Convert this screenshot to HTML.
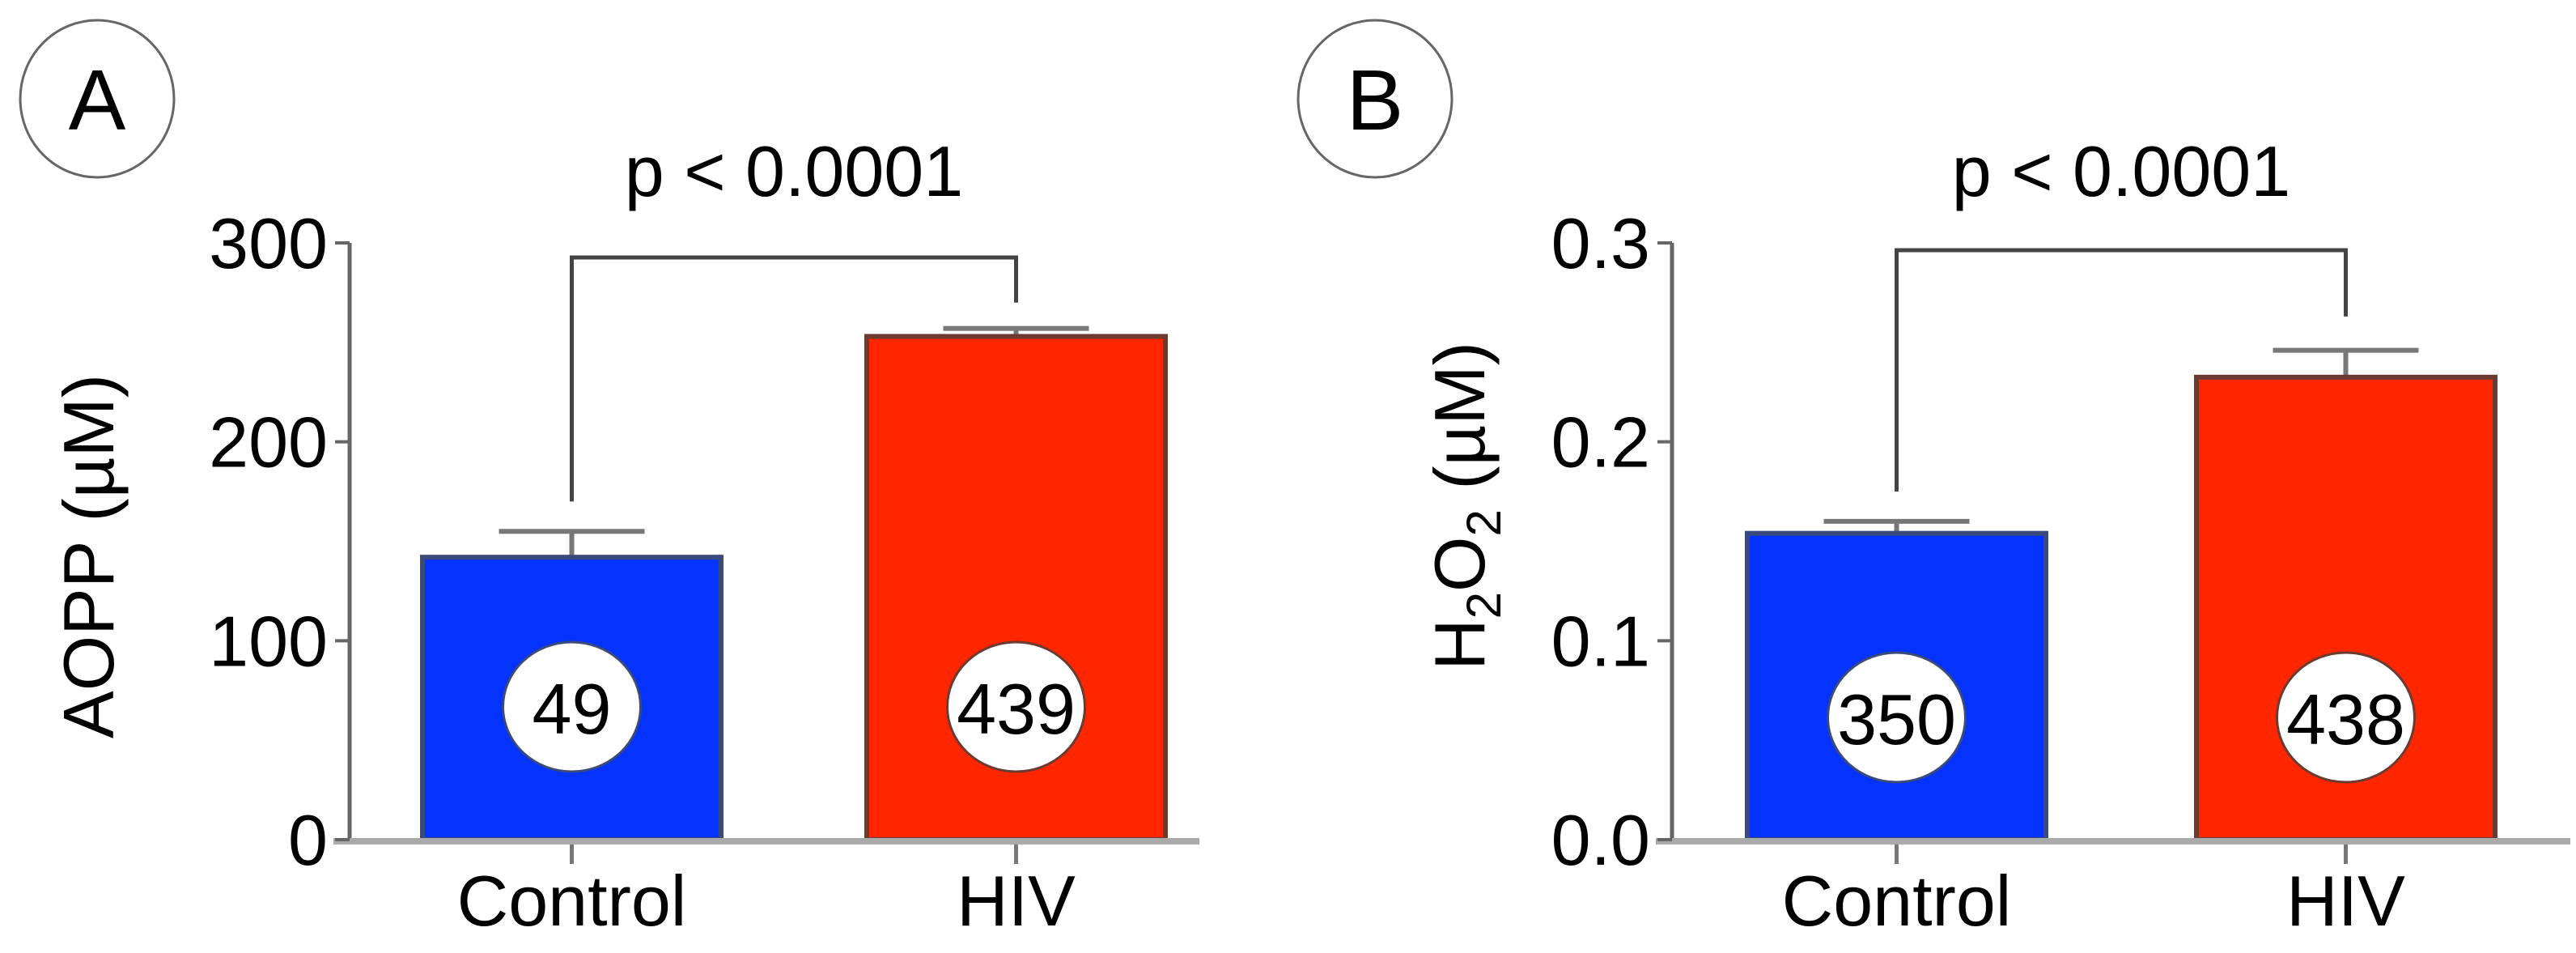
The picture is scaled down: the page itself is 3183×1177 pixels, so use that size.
<!DOCTYPE html>
<html><head><meta charset="utf-8"><style>
html,body{margin:0;padding:0;background:#fff;}
svg{display:block;font-family:"Liberation Sans",Arial,sans-serif;}
</style></head><body>
<svg id="fig" width="3183" height="1177" viewBox="0 0 3183 1177" xmlns="http://www.w3.org/2000/svg"></svg>
<script>
const categories = ["Control", "HIV"];
const aoppValues = [142, 253];
const aoppErrors = [13, 4];
const aoppCounts = ["49", "439"];
const aoppTicks = [0, 100, 200, 300];
const aoppTickLabels = ["0", "100", "200", "300"];
const h2o2Values = [0.154, 0.2325];
const h2o2Errors = [0.006, 0.0135];
const h2o2Counts = ["350", "438"];
const h2o2Ticks = [0, 0.1, 0.2, 0.3];
const h2o2TickLabels = ["0.0", "0.1", "0.2", "0.3"];
const aoppBracket = [170, 270];
const h2o2Bracket = [0.175, 0.263];

const NS = "http://www.w3.org/2000/svg";
const svg = document.getElementById('fig');
function mk(tag, attrs, parent, text){
  const e = document.createElementNS(NS, tag);
  for (const k in attrs) e.setAttribute(k, attrs[k]);
  if (text !== undefined) e.textContent = text;
  (parent||svg).appendChild(e);
  return e;
}
const colors = ["#0433ff", "#ff2600"];
const strokes = ["#3a4a7a", "#6b3a30"];

function panel(p){
  const g = mk('g', {});
  
  
  const y0 = 1037, y1 = 300;
  const ymax = p.ticks[p.ticks.length-1];
  const Y = v => y0 - (v / ymax) * (y0 - y1);
  const bw = 369;
  const X = i => p.barStart + i * p.barStep;
  // panel letter
  const lc = mk('ellipse', {cx:p.letterX, cy:122, rx:95, ry:97, fill:'none', stroke:'#666', 'stroke-width':3}, g);
  
  
  const lt = mk('text', {x:p.letterX, y:160, 'font-size':106, 'text-anchor':'middle', fill:'#000'}, g, p.letter);
  
  
  // bars
  for (let i = 0; i < categories.length; i++){
    const x = X(i), cx = x + bw/2;
    const top = Y(p.values[i]), et = Y(p.values[i] + p.errors[i]);
    const eb = mk('line', {x1:cx, x2:cx, y1:et, y2:top, stroke:'#777', 'stroke-width':6}, g);
    
    
    const ec = mk('line', {x1:cx-90, x2:cx+90, y1:et, y2:et, stroke:'#777', 'stroke-width':6}, g);
    
    
    const r = mk('rect', {x:x, y:top, width:bw, height:y0-top, fill:colors[i], stroke:strokes[i], 'stroke-width':6}, g);
    
    
    const ny = 868 + p.countOff;
    const ce = mk('ellipse', {cx:cx, cy:ny, rx:85, ry:80, fill:'#fff', stroke:strokes[i], 'stroke-width':3}, g);
    
    
    const ct = mk('text', {x:cx, y:ny+33, 'font-size':88, 'text-anchor':'middle', fill:'#000'}, g, p.counts[i]);
    
    
    const tk = mk('line', {x1:cx, x2:cx, y1:y0, y2:y0+30, stroke:'#777', 'stroke-width':5}, g);
    
    
    const cl = mk('text', {x:cx, y:1143, 'font-size':88, 'text-anchor':'middle', fill:'#000'}, g, categories[i]);
    
    
  }
  // axes
  const ya = mk('line', {x1:p.axisX, x2:p.axisX, y1:y1, y2:y0, stroke:'#666', 'stroke-width':5}, g);
  
  
  const xa = mk('line', {x1:p.axisX-20, x2:p.axisEnd, y1:y0+2, y2:y0+2, stroke:'#aaa', 'stroke-width':8}, g);
  
  
  for (let i = 0; i < p.ticks.length; i++){
    const ty = Y(p.ticks[i]);
    const t = mk('line', {x1:p.axisX-18, x2:p.axisX, y1:ty, y2:ty, stroke:'#666', 'stroke-width':4}, g);
    
    
    const tl = mk('text', {x:p.axisX-27, y:ty+31, 'font-size':88, 'text-anchor':'end', fill:'#000'}, g, p.tickLabels[i]);
    
    
  }
  // y title
  const yt = mk('text', {x:0, y:0, 'font-size':88, 'text-anchor':'middle', fill:'#000', transform:'translate(' + p.titleX + ',' + p.titleY + ') rotate(-90)'}, g);
  
  
  p.title(yt);
  // bracket
  const lx = X(0) + bw/2, rx = X(1) + bw/2, by = p.bracketY;
  const br = mk('polyline', {points: lx + ',' + Y(p.bracket[0]) + ' ' + lx + ',' + by + ' ' + rx + ',' + by + ' ' + rx + ',' + Y(p.bracket[1]), fill:'none', stroke:'#444', 'stroke-width':5}, g);
  
  
  const pt = mk('text', {x:(lx+rx)/2, y:242, 'font-size':88, 'text-anchor':'middle', fill:'#000'}, g, 'p < 0.0001');
  
  
}

panel({name:'panel-a-aopp', letter:'A', letterX:120, axisX:432, axisEnd:1482, barStart:522, barStep:549,
  values:aoppValues, errors:aoppErrors, counts:aoppCounts, ticks:aoppTicks, tickLabels:aoppTickLabels,
  bracket:aoppBracket, bracketY:318, countOff:5, titleX:140, titleY:687,
  title: t => { t.textContent = 'AOPP (µM)'; }});
panel({name:'panel-b-h2o2', letter:'B', letterX:1699, axisX:2066, axisEnd:3176, barStart:2159, barStep:555,
  values:h2o2Values, errors:h2o2Errors, counts:h2o2Counts, ticks:h2o2Ticks, tickLabels:h2o2TickLabels,
  bracket:h2o2Bracket, bracketY:309, countOff:18, titleX:1834, titleY:625,
  title: t => {
    const parts = [['H',0],['2',1],['O',0],['2',1],[' (µM)',0]];
    parts.forEach(([s,sub]) => {
      const ts = document.createElementNS(NS, 'tspan');
      ts.textContent = s;
      if (sub){ ts.setAttribute('font-size', '60'); ts.setAttribute('dy', '20'); }
      else if (t.childNodes.length) { ts.setAttribute('dy', '-20'); }
      t.appendChild(ts);
    });
  }});
</script>
</body></html>
